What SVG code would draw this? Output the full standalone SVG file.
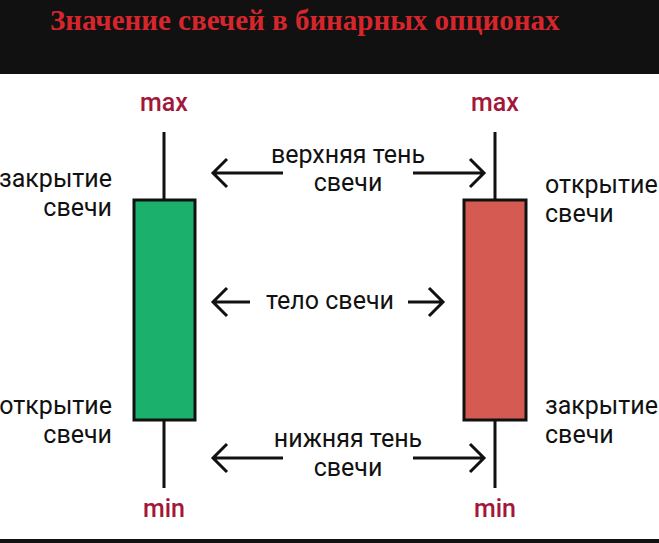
<svg xmlns="http://www.w3.org/2000/svg" width="659" height="543" viewBox="0 0 659 543">
<style>
.t{font-family:Roboto,"Noto Sans",sans-serif;font-size:25px;fill:#111}
.m{font-family:Roboto,sans-serif;font-size:25px;font-weight:500;fill:#a3173a;text-anchor:middle}
.c{text-anchor:middle}
.w{stroke:#111;stroke-width:3}
.a{stroke:#111;stroke-width:3;fill:none}
</style>
<rect width="659" height="543" fill="#fff"/>
<rect width="659" height="74" fill="#111"/>
<rect y="539" width="659" height="4" fill="#111"/>
<text x="50" y="30" font-family="Liberation Serif,serif" font-weight="bold" font-size="29" fill="#d7262b">Значение свечей в бинарных опционах</text>
<g id="green">
<line class="w" x1="164" y1="132" x2="164" y2="488"/>
<rect x="134" y="200" width="61" height="220" fill="#1bb06c" stroke="#111" stroke-width="3"/>
<text class="m" x="164" y="111">max</text><text class="m" x="164" y="517">min</text>
<text class="t" x="112" y="187" text-anchor="end">закрытие</text><text class="t" x="112" y="216" text-anchor="end">свечи</text>
<text class="t" x="112" y="414" text-anchor="end">открытие</text><text class="t" x="112" y="443" text-anchor="end">свечи</text>
</g>
<g id="red">
<line class="w" x1="495" y1="132" x2="495" y2="488"/>
<rect x="464" y="200" width="62" height="220" fill="#d45a52" stroke="#111" stroke-width="3"/>
<text class="m" x="495" y="111">max</text><text class="m" x="495" y="517">min</text>
<text class="t" x="545" y="193">открытие</text><text class="t" x="545" y="222">свечи</text>
<text class="t" x="545" y="414">закрытие</text><text class="t" x="545" y="443">свечи</text>
</g>
<g id="labels">
<text class="t c" x="348" y="163">верхняя тень</text><text class="t c" x="348" y="191">свечи</text>
<text class="t c" x="330" y="309">тело свечи</text>
<text class="t c" x="348" y="447">нижняя тень</text><text class="t c" x="348" y="476">свечи</text>
</g>
<g id="connectors">
<path class="a" d="M283 173H213M227 159L213 173L227 187M413 173H484M470 159L484 173L470 187"/>
<path class="a" d="M250 302H213M227 288L213 302L227 316M408 302H443M429 288L443 302L429 316"/>
<path class="a" d="M283 458H213M227 444L213 458L227 472M413 458H484M470 444L484 458L470 472"/>
</g>
</svg>
